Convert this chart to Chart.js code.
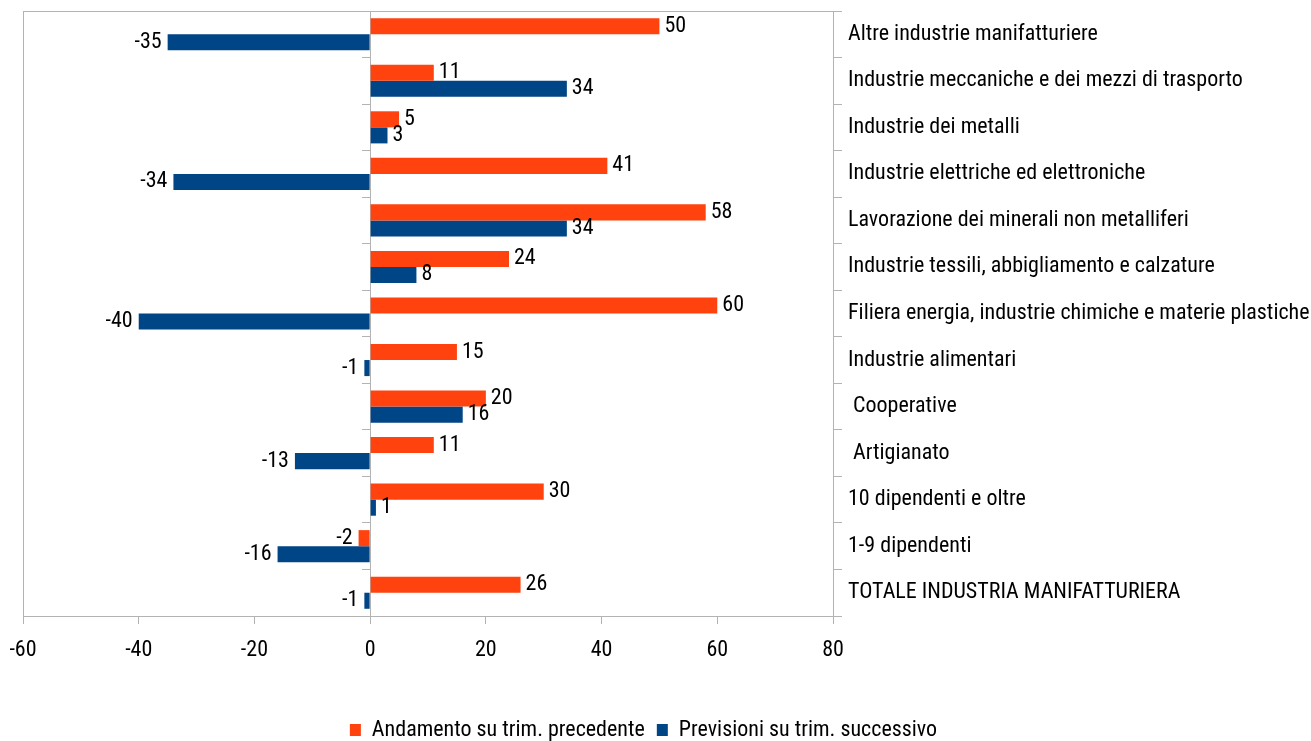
<!DOCTYPE html>
<html>
<head>
<meta charset="utf-8">
<script src="https://cdn.jsdelivr.net/npm/chart.js@4"></script>
<style>
  html, body { margin: 0; padding: 0; background: #fff; }
  #wrap { width: 1311px; height: 741px; }
</style>
</head>
<body>
<div id="wrap"><canvas id="chart"></canvas></div>
<script>
const categories = [
    'Altre industrie manifatturiere',
    'Industrie meccaniche e dei mezzi di trasporto',
    'Industrie dei metalli',
    'Industrie elettriche ed elettroniche',
    'Lavorazione dei minerali non metalliferi',
    'Industrie tessili, abbigliamento e calzature',
    'Filiera energia, industrie chimiche e materie plastiche',
    'Industrie alimentari',
    ' Cooperative',
    ' Artigianato',
    '10 dipendenti e oltre',
    '1-9 dipendenti',
    'TOTALE INDUSTRIA MANIFATTURIERA'
];
const andamento = [50, 11, 5, 41, 58, 24, 60, 15, 20, 11, 30, -2, 26];
const previsioni = [-35, 34, 3, -34, 34, 8, -40, -1, 16, -13, 1, -16, -1];
const seriesNames = ['Andamento su trim. precedente', 'Previsioni su trim. successivo'];

const FONT = '"Roboto Condensed", "DejaVu Sans Condensed", sans-serif';
const GRID = '#b3b3b3';
const PLOT_BOTTOM = 616;

// frame round the plot area
const framePlugin = {
    id: 'frame',
    beforeDatasetsDraw(chart) {
        const a = chart.chartArea, ctx = chart.ctx;
        ctx.save();
        ctx.strokeStyle = GRID;
        ctx.lineWidth = 1;
        ctx.strokeRect(Math.round(a.left) + 0.5, Math.round(a.top) + 0.5,
            Math.round(a.right - a.left), Math.round(a.bottom - a.top));
        ctx.restore();
    }
};

// legend sits a bit left of the canvas centre in the original
const legendShift = {
    id: 'legendShift',
    afterLayout(chart) {
        if (chart.legend) {
            chart.legend.left -= 12;
            chart.legend.right -= 12;
        }
    }
};

// value labels next to the bar ends
const valueLabels = {
    id: 'valueLabels',
    afterDatasetsDraw(chart) {
        const ctx = chart.ctx;
        ctx.save();
        ctx.font = '22px ' + FONT;
        ctx.fillStyle = '#000';
        ctx.textBaseline = 'middle';
        chart.data.datasets.forEach((ds, i) => {
            chart.getDatasetMeta(i).data.forEach((bar, j) => {
                const v = ds.data[j];
                if (v >= 0) {
                    ctx.textAlign = 'left';
                    ctx.fillText(String(v), bar.x + 5, bar.y);
                } else {
                    ctx.textAlign = 'right';
                    ctx.fillText(String(v), bar.x - 6, bar.y);
                }
            });
        });
        ctx.restore();
    }
};

Chart.defaults.font.family = FONT;
Chart.defaults.font.size = 22;
Chart.defaults.color = '#000';

new Chart(document.getElementById('chart'), {
    type: 'bar',
    data: {
        labels: categories,
        datasets: [
            { label: seriesNames[0], data: andamento, backgroundColor: '#ff420e', categoryPercentage: 0.69, barPercentage: 1 },
            { label: seriesNames[1], data: previsioni, backgroundColor: '#004586', categoryPercentage: 0.69, barPercentage: 1 }
        ]
    },
    options: {
        indexAxis: 'y',
        responsive: true,
        maintainAspectRatio: false,
        animation: false,
        layout: { padding: { left: 0, top: 11, right: 0, bottom: -10 } },
        plugins: {
            legend: {
                position: 'bottom',
                labels: { boxWidth: 11, boxHeight: 12, padding: 12, font: { size: 22 } }
            },
            tooltip: { enabled: false }
        },
        scales: {
            x: {
                min: -60, max: 80,
                ticks: { stepSize: 20, padding: 13 },
                grid: { drawOnChartArea: false, color: GRID, tickLength: 8 },
                border: { color: GRID },
                afterFit(s) {
                    const lg = s.chart.legend;
                    s.height = s.chart.height + 10 - (lg ? lg.height : 30) - PLOT_BOTTOM;
                    s.paddingLeft = 23;
                    s.paddingRight = 0;
                }
            },
            y: {
                position: 'right',
                grid: { offset: true, drawOnChartArea: false, color: GRID, tickLength: 9 },
                border: { color: GRID },
                ticks: { padding: 6 },
                afterFit(s) {
                    s.width = 478;
                    s.paddingTop = 0;
                    s.paddingBottom = 0;
                }
            },
            yZero: {
                type: 'category',
                axis: 'y',
                position: { x: 0 },
                labels: categories,
                grid: { offset: true, drawOnChartArea: false, color: GRID, tickLength: 8 },
                border: { color: GRID },
                ticks: { display: false }
            }
        }
    },
    plugins: [framePlugin, legendShift, valueLabels]
});
</script>
</body>
</html>
